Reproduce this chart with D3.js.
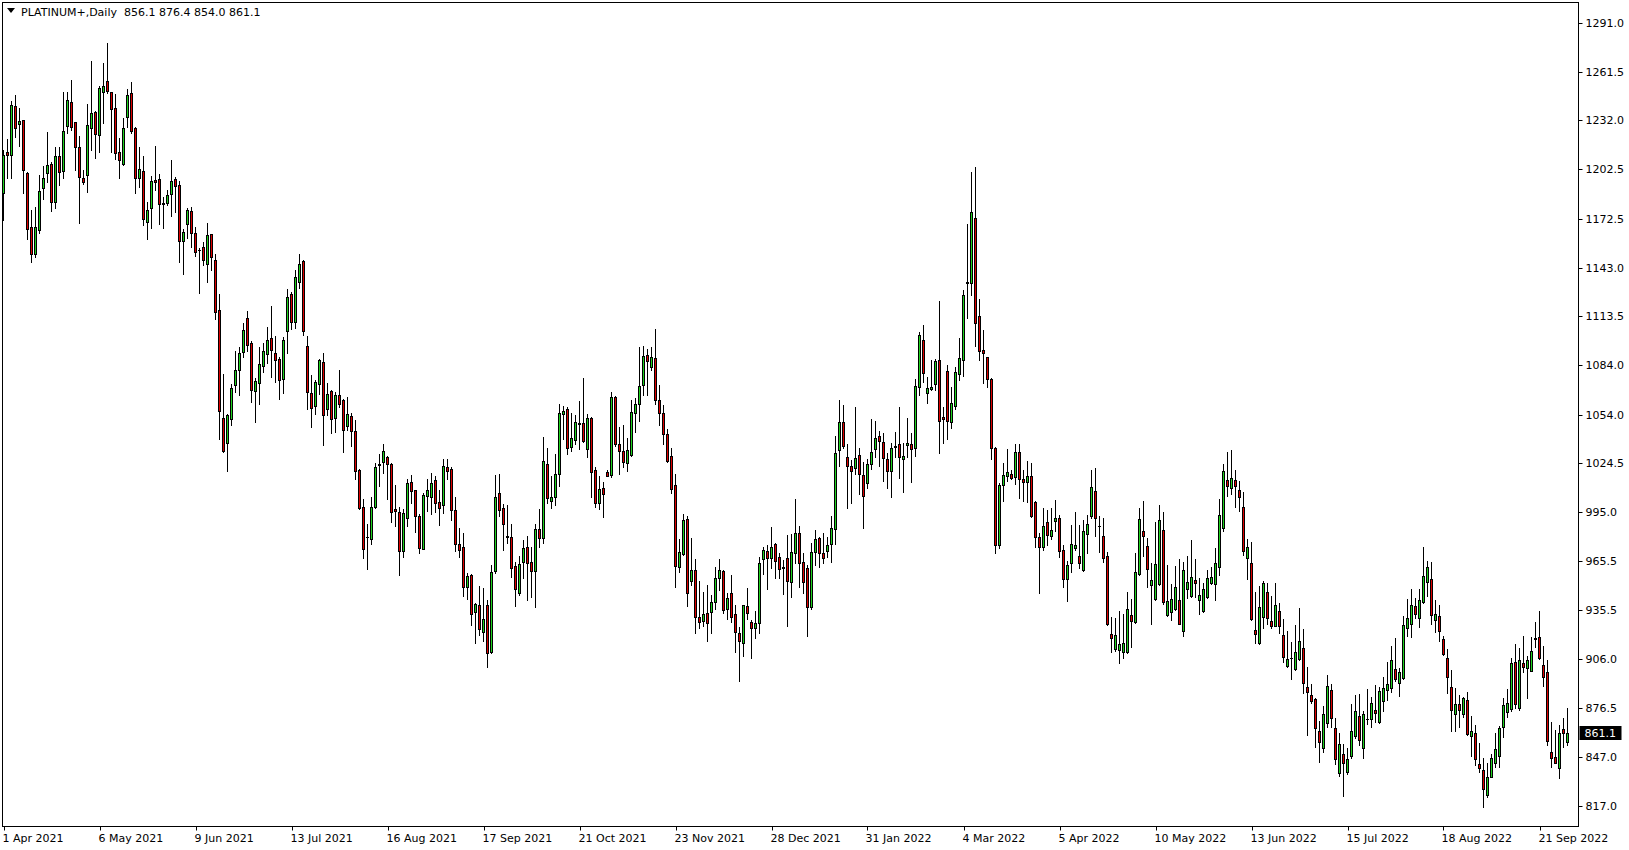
<!DOCTYPE html>
<html><head><meta charset="utf-8">
<script src="https://cdn.jsdelivr.net/npm/d3@7"></script>
<style>html,body{margin:0;padding:0;background:#fff;overflow:hidden}
svg{display:block} text{white-space:pre}</style>
</head><body><svg id="c" width="1629" height="850"></svg>
<script>
const symbol = "PLATINUM+,Daily";
const lastBar = ["856.1", "876.4", "854.0", "861.1"];

const open = [1188,1212.9,1210.9,1240.5,1230.0,1232.0,1200.0,1167.3,1151.4,1165.9,
1191.3,1200.4,1205.6,1182.4,1210.3,1201.6,1228.8,1243.1,1230.8,1215.7,
1196.9,1199.2,1227.6,1237.1,1223.0,1249.0,1255.6,1249.2,1239.3,1212.7,
1205.6,1233.9,1248.8,1227.2,1197.3,1201.2,1170.7,1179.2,1195.7,1196.3,
1181.4,1182.2,1187.3,1196.3,1192.7,1159.2,1169.5,1177.0,1163.7,1153.4,
1155.2,1145.3,1163.1,1147.3,1117.1,1051.7,1037.0,1051.5,1071.7,1081.2,
1092.1,1112.4,1097.1,1068.1,1072.9,1083.2,1090.5,1100.1,1091.1,1087.6,
1075.3,1104.4,1127.0,1109.8,1134.4,1146.9,1095.3,1066.9,1059.0,1072.3,
1085.6,1057.2,1068.3,1051.7,1065.7,1062.6,1046.9,1053.0,1043.9,1020.5,
997.9,980.0,978.5,997.9,1023.8,1025.1,1028.3,1023.9,996.8,995.0,
971.6,991.6,1013.0,1008.1,992.6,972.6,1004.9,1004.3,1014.2,1000.9,
999.1,1022.1,1020.9,996.0,975.5,973.7,949.9,956.9,934.7,938.6,
922.6,938.8,910.5,959.1,1006.3,997.2,980.4,979.7,962.1,945.8,
964.6,973.7,965.0,959.5,984.6,979.1,1023.9,1001.9,1004.3,1017.8,
1054.1,1057.2,1034.4,1038.8,1048.3,1048.7,1033.0,1051.9,1020.3,1000.7,
1009.4,1019.0,1017.6,1064.6,1036.2,1031.8,1024.9,1029.5,1054.8,1060.6,
1071.9,1089.8,1082.6,1088.0,1063.0,1055.0,1042.0,1029.0,1011.4,962.0,
969.5,990.8,953.5,960.0,931.3,929.3,933.8,934.8,940.8,954.9,
959.4,936.6,945.9,933.2,921.7,916.0,938.2,928.3,924.7,927.7,
966.4,971.3,967.0,975.5,967.7,961.6,967.0,952.9,970.0,982.1,
964.6,960.9,937.8,970.6,979.1,970.0,971.6,975.9,984.9,1032.4,
1049.5,1028.1,1023.1,1021.9,1029.3,1017.2,1012.8,1023.9,1033.0,1040.8,
1037.2,1027.1,1020.1,1034.5,1036.0,1027.3,1035.4,1036.0,1033.5,1071.0,
1098.9,1066.8,1069.6,1072.3,1086.8,1052.3,1080.3,1049.3,1059.3,1078.3,
1087.0,1133.8,1133.4,1172.7,1113.6,1092.8,1088.6,1075.3,1033.5,975.0,
1011.7,1017.0,1018.0,1016.0,1031.1,1015.0,1013.0,1016.8,1001.1,979.7,
973.6,988.8,980.7,989.8,991.2,971.8,954.5,964.4,973.4,968.2,
959.9,981.9,992.8,1007.5,986.6,980.3,968.2,921.0,912.3,911.5,
910.5,910.5,932.5,928.6,957.3,983.3,974.2,951.2,942.2,951.6,
983.9,932.7,934.3,936.5,941.6,923.2,948.6,944.4,954.1,941.6,
935.3,943.4,952.3,951.7,962.0,985.6,1014.2,1009.4,1014.2,1008.1,
997.9,967.0,964.0,923.4,915.6,931.7,946.4,928.9,926.3,934.9,
920.4,901.6,906.8,899.8,905.9,912.5,888.9,884.1,881.7,862.3,
852.0,867.5,887.1,864.1,837.3,848.4,837.9,847.6,859.7,871.6,
852.4,870.1,869.6,875.2,867.8,880.9,887.1,888.3,899.8,891.9,
894.4,925.0,927.0,938.1,931.1,940.8,952.9,954.3,929.5,932.1,
918.2,906.5,888.9,872.6,878.6,872.6,881.1,859.3,861.1,842.3,
838.7,823.6,834.9,843.3,847.6,864.7,874.2,875.6,904.1,876.2,
903.5,900.8,899.0,918.6,919.2,902.2,898.0,849.6,846.6,839.9,
863.5,856.1];

const high = [1214,1220.5,1243.7,1247.2,1239.3,1232.4,1200.6,1177.8,1179.8,1199.0,
1204.4,1225.0,1207.0,1216.1,1216.1,1249.2,1249.2,1256.2,1231.2,1222.6,
1202.0,1241.7,1267.7,1237.9,1252.8,1266.7,1278.8,1249.4,1247.8,1221.4,
1233.5,1250.8,1255.2,1228.2,1215.7,1210.5,1182.4,1198.4,1216.5,1199.6,
1185.9,1189.9,1208.0,1197.6,1195.3,1166.3,1178.8,1179.4,1167.3,1155.0,
1158.4,1169.9,1163.5,1151.0,1126.8,1078.5,1054.3,1072.3,1092.3,1094.9,
1109.2,1116.7,1098.5,1075.9,1094.7,1097.1,1106.8,1119.7,1101.6,1088.9,
1100.8,1129.8,1128.2,1141.5,1151.0,1147.5,1101.6,1078.0,1074.9,1087.8,
1091.1,1072.9,1068.9,1067.7,1081.0,1063.2,1064.6,1054.8,1050.7,1021.1,
1002.9,987.8,1004.1,1024.9,1030.0,1036.2,1029.0,1024.5,1011.4,998.3,
996.8,1014.8,1017.4,1008.5,993.8,1006.7,1015.2,1018.8,1017.0,1008.1,
1027.1,1027.1,1022.5,1004.3,985.2,982.1,958.3,957.3,940.2,950.5,
949.0,942.0,963.0,1017.6,1018.0,999.7,999.3,987.6,964.6,968.4,
978.1,980.5,974.1,987.6,996.9,1040.4,1033.8,1016.6,1030.0,1060.2,
1059.2,1058.4,1054.8,1053.5,1062.2,1076.1,1054.1,1052.3,1022.1,1017.0,
1013.0,1020.5,1067.7,1065.2,1046.7,1047.7,1039.6,1063.0,1064.0,1094.7,
1095.5,1093.5,1094.9,1105.8,1072.0,1060.0,1045.0,1033.5,1018.1,978.7,
993.9,992.7,979.2,966.6,953.3,946.7,950.9,944.9,962.0,966.8,
959.8,945.9,957.0,938.8,925.7,938.8,949.1,929.7,935.2,967.7,
973.7,975.1,985.8,976.1,970.5,966.0,981.1,981.5,1002.9,986.6,
970.0,963.0,976.5,983.9,980.1,982.1,979.7,992.6,1041.0,1062.8,
1059.8,1036.0,1026.5,1058.4,1033.6,1025.1,1027.1,1051.1,1050.1,1044.3,
1042.6,1030.5,1037.0,1043.7,1058.6,1036.6,1051.7,1043.1,1075.7,1103.9,
1108.2,1076.9,1087.0,1087.8,1122.5,1058.3,1083.8,1070.8,1082.5,1100.3,
1129.3,1169.1,1200.5,1204.0,1123.7,1105.1,1089.0,1075.9,1034.1,1012.8,
1024.9,1033.1,1020.4,1036.2,1036.2,1020.4,1025.9,1024.5,1001.9,982.1,
997.2,996.2,997.2,1002.3,993.2,975.4,965.4,987.5,994.8,987.1,
990.2,993.2,1020.4,1021.6,992.6,991.2,970.6,931.3,930.7,935.1,
933.3,946.4,942.4,970.2,997.6,1001.7,979.1,964.1,988.8,999.6,
994.8,963.0,951.8,962.4,966.6,964.6,968.4,978.1,966.6,954.9,
951.9,960.1,961.5,973.0,1002.7,1024.1,1031.1,1032.5,1020.4,1013.8,
1006.9,978.7,976.9,946.4,950.3,953.1,951.9,944.2,951.9,939.8,
930.1,923.0,916.6,926.7,936.7,924.0,901.0,891.3,882.3,868.8,
877.8,896.2,891.3,870.2,861.1,854.4,852.4,878.6,884.3,885.1,
874.6,887.9,883.3,890.3,889.3,895.4,904.1,913.9,919.0,900.4,
932.3,942.4,948.2,943.2,948.2,973.6,965.4,965.0,941.8,938.7,
920.0,911.9,899.2,888.3,884.3,883.3,885.9,871.6,866.1,855.0,
846.0,843.3,848.4,861.1,865.5,882.3,887.7,906.9,914.9,912.5,
920.0,907.9,919.6,928.3,935.1,913.9,905.3,868.2,863.1,866.1,
870.2,876.4];

const low = [1171.7,1196.9,1197.3,1222.2,1216.5,1188.3,1160.2,1146.5,1149.5,1164.1,
1184.4,1194.9,1177.4,1179.2,1192.7,1197.3,1224.6,1226.2,1202.0,1169.7,
1193.5,1188.9,1214.1,1209.0,1213.1,1230.6,1248.4,1213.1,1208.6,1197.3,
1205.2,1228.2,1224.6,1188.3,1191.9,1168.9,1160.4,1167.1,1189.9,1169.5,
1167.1,1180.8,1174.4,1176.8,1146.5,1139.3,1161.0,1155.6,1149.7,1127.8,
1144.5,1134.4,1141.3,1111.6,1039.0,1031.5,1020.0,1047.7,1067.9,1066.0,
1089.0,1092.7,1061.8,1049.7,1060.2,1080.0,1085.4,1076.9,1073.9,1063.6,
1067.3,1091.1,1105.8,1106.6,1130.8,1102.2,1057.4,1046.7,1054.2,1066.3,
1035.8,1053.6,1043.1,1043.7,1058.8,1031.6,1044.7,1035.2,1015.2,996.9,
967.4,960.4,975.5,997.5,1011.0,1018.5,1002.7,989.2,986.8,956.9,
967.6,986.6,1000.7,983.1,970.4,972.4,995.6,993.8,995.2,987.4,
994.2,1014.8,990.2,971.4,967.8,944.2,942.2,926.7,916.0,920.6,
917.0,901.0,909.5,958.3,992.6,972.0,976.1,955.9,938.4,944.8,
954.9,941.8,943.8,937.8,974.1,976.5,1000.3,997.7,999.1,1011.0,
1039.2,1030.4,1032.2,1036.0,1033.2,1037.2,1028.5,1004.3,998.3,996.7,
992.0,1016.8,1016.4,1035.2,1018.2,1022.5,1019.9,1029.1,1043.5,1050.1,
1065.8,1065.8,1080.8,1060.2,1048.0,1036.0,1025.5,1006.8,949.9,958.8,
969.3,938.4,950.9,922.1,924.7,926.3,917.2,922.1,936.2,947.9,
934.2,930.3,928.7,910.6,893.0,908.2,930.3,906.5,919.0,921.7,
957.4,948.3,961.2,955.3,954.9,945.5,926.3,943.8,964.0,949.9,
945.8,920.2,936.3,963.0,962.0,964.4,967.6,965.0,975.5,1023.1,
1033.6,997.3,1000.7,1017.8,1006.1,985.2,1009.4,1021.1,1028.5,1023.1,
1014.0,1009.4,1003.9,1028.1,1015.4,1007.3,1028.1,1013.0,1028.9,1065.8,
1073.9,1060.8,1068.8,1068.8,1030.9,1036.6,1039.0,1045.6,1057.1,1074.9,
1077.5,1112.6,1126.3,1095.5,1087.0,1073.3,1070.8,1026.9,970.0,973.4,
1001.9,1014.0,1014.8,1012.0,1003.7,1001.9,1001.3,991.8,974.0,946.2,
972.0,975.0,978.7,983.5,968.0,949.8,941.2,958.9,972.0,960.9,
959.3,970.4,991.6,980.7,970.6,964.6,926.5,910.1,911.1,903.8,
906.9,909.9,913.5,928.2,956.9,968.4,949.8,927.0,941.8,951.2,
939.4,932.1,929.7,935.7,927.3,920.0,943.2,943.8,943.4,933.5,
934.7,943.2,951.3,941.8,956.9,983.5,1004.7,1005.9,998.3,995.8,
969.0,954.7,929.9,916.0,915.4,925.0,927.3,925.0,926.1,921.6,
904.5,901.0,894.2,899.4,905.5,885.7,860.1,879.8,853.0,843.7,
850.0,865.1,865.1,842.7,835.5,823.4,836.7,846.0,858.1,854.0,
846.0,866.7,865.1,867.8,867.6,874.8,881.3,886.3,892.8,883.9,
894.2,920.0,919.6,930.7,925.6,939.8,944.4,927.0,922.6,917.0,
908.7,885.7,862.5,862.7,865.1,871.2,860.1,847.2,842.1,837.5,
816.7,822.6,834.7,840.9,840.9,859.1,870.8,874.8,876.2,875.2,
898.0,882.3,898.8,913.5,906.3,889.9,854.0,840.9,842.9,833.9,
853.0,854.0];

const close = [1211,1211.3,1241.1,1227.6,1231.6,1201.8,1166.5,1151.0,1167.3,1189.1,
1196.9,1205.0,1182.6,1210.3,1200.6,1225.4,1244.1,1228.2,1216.1,1198.0,
1194.9,1229.0,1236.3,1224.0,1251.6,1252.8,1250.0,1238.7,1212.5,1208.2,
1227.2,1247.4,1225.8,1197.3,1202.4,1172.5,1177.6,1195.1,1194.9,1181.2,
1181.8,1186.7,1195.1,1192.1,1159.2,1164.3,1177.6,1163.9,1152.6,1153.8,
1147.7,1162.5,1149.5,1116.3,1056.4,1032.2,1053.7,1069.9,1080.8,1091.1,
1105.0,1095.9,1068.7,1074.3,1084.4,1092.3,1099.1,1093.3,1086.8,1074.7,
1099.1,1125.0,1109.8,1137.1,1144.9,1104.8,1067.9,1058.2,1073.5,1087.0,
1053.6,1066.3,1051.1,1065.7,1060.6,1044.5,1054.2,1043.9,1019.7,997.7,
972.5,979.8,997.9,1022.1,1024.0,1031.8,1023.9,995.3,995.4,971.6,
994.2,1012.4,1007.5,992.4,973.5,1005.3,1008.1,1012.6,1000.7,997.7,
1022.7,1020.0,996.4,975.9,972.2,949.5,956.3,933.1,939.4,924.4,
930.1,909.9,958.5,1003.9,996.0,987.6,980.2,961.3,948.2,963.4,
973.0,964.0,959.5,984.6,979.5,1025.7,1003.3,1004.3,1017.8,1054.8,
1056.0,1034.0,1039.6,1049.3,1048.7,1038.2,1051.7,1019.5,1000.7,1008.8,
1006.1,1017.0,1064.4,1036.2,1032.2,1025.5,1032.4,1055.4,1060.6,1071.1,
1089.2,1086.6,1088.6,1062.8,1055.0,1042.0,1026.1,1008.8,962.6,970.7,
990.0,946.3,960.0,931.7,928.7,933.2,927.7,940.4,955.1,960.0,
935.8,942.8,931.7,922.7,917.2,938.6,934.2,924.7,927.7,964.0,
972.1,967.0,973.7,965.4,960.4,961.2,953.5,970.6,982.1,964.0,
952.9,937.8,970.6,978.5,970.0,967.4,975.1,985.2,1030.5,1049.3,
1035.2,1023.1,1020.1,1027.5,1018.2,1004.9,1023.9,1031.1,1039.6,1038.2,
1027.5,1020.1,1033.6,1034.7,1028.1,1028.7,1036.6,1033.2,1071.6,1101.9,
1078.9,1069.8,1070.4,1086.2,1050.3,1051.1,1050.3,1060.8,1079.5,1088.0,
1126.1,1134.2,1176.3,1109.6,1092.6,1091.4,1075.3,1033.9,975.4,1011.3,
1017.4,1019.4,1015.8,1031.1,1014.8,1013.0,1016.8,992.8,979.7,974.0,
986.5,981.1,983.9,991.2,971.6,954.5,963.3,976.0,974.8,964.4,
983.3,988.1,1010.0,991.2,986.4,967.0,927.0,919.0,920.4,915.5,
916.1,936.1,929.3,958.5,990.6,980.7,960.7,953.7,963.9,990.0,
940.8,941.0,942.2,949.4,927.5,959.7,952.5,955.5,952.3,944.6,
948.4,954.9,955.7,964.0,993.0,1019.6,1011.0,1015.4,1010.6,1004.3,
971.6,973.7,930.1,921.4,937.4,951.9,930.7,926.3,938.6,926.3,
907.1,905.9,906.6,910.1,916.8,891.4,886.3,880.8,864.5,856.0,
872.6,889.5,870.2,845.4,854.4,843.3,845.4,862.5,874.6,857.3,
872.6,869.9,879.2,873.2,886.7,888.3,891.3,905.3,893.8,898.2,
926.6,931.1,939.1,933.1,941.6,956.1,961.5,932.7,933.1,923.2,
908.9,895.0,875.0,878.6,875.4,882.3,860.9,862.3,845.4,839.9,
827.2,834.5,846.0,851.6,864.1,878.2,879.2,903.5,879.0,905.3,
901.4,905.3,910.9,918.2,906.5,895.0,856.7,846.0,843.3,861.1,
861.5,861.1];

const priceTicks = [1291.0,1261.5,1232.0,1202.5,1172.5,1143.0,1113.5,1084.0,1054.0,1024.5,995.0,965.5,935.5,906.0,876.5,847.0,817.0];
const dateLabels = ["1 Apr 2021","6 May 2021","9 Jun 2021","13 Jul 2021","16 Aug 2021","17 Sep 2021","21 Oct 2021","23 Nov 2021","28 Dec 2021","31 Jan 2022","4 Mar 2022","5 Apr 2022","10 May 2022","13 Jun 2022","15 Jul 2022","18 Aug 2022","21 Sep 2022"];
const barsPerDateLabel = 24;

const FONT = "'DejaVu Sans', Tahoma, sans-serif";
const UP = "#1ed21e", DOWN = "#dc0000";
const frame = {left: 2.5, right: 1578.5, top: 2.5, bottom: 826.5};

const svg = d3.select("#c");
const n = open.length;
const data = d3.range(n).map(i => ({i, o: open[i], h: high[i], l: low[i], c: close[i]}));

const x = d3.scaleLinear().domain([0, n - 1]).range([3.5, 3.5 + 4 * (n - 1)]);
const y = d3.scaleLinear().domain([817, 1291]).range([806.3, 22.9]);

svg.append("rect").attr("x", frame.left).attr("y", frame.top)
  .attr("width", frame.right - frame.left).attr("height", frame.bottom - frame.top)
  .attr("fill", "#fff").attr("stroke", "#000").attr("stroke-width", 1);

svg.append("clipPath").attr("id", "clip").append("rect")
  .attr("x", frame.left + 0.5).attr("y", frame.top + 0.5)
  .attr("width", frame.right - frame.left - 1).attr("height", frame.bottom - frame.top - 1);

const g = svg.append("g").attr("clip-path", "url(#clip)");

g.selectAll("line.wick").data(data).join("line").attr("class", "wick")
  .attr("x1", d => x(d.i)).attr("x2", d => x(d.i))
  .attr("y1", d => Math.round(y(d.h))).attr("y2", d => Math.round(y(d.l)) + 1)
  .attr("stroke", "#000").attr("stroke-width", 1);

data.forEach(d => {
  const top = Math.round(y(Math.max(d.o, d.c)));
  const bot = Math.round(y(Math.min(d.o, d.c)));
  const cx = x(d.i);
  if (bot - top < 2) {
    g.append("rect").attr("x", cx - 1.5).attr("y", top).attr("width", 3)
      .attr("height", Math.max(1, bot - top + 1)).attr("fill", "#000");
  } else {
    g.append("rect").attr("x", cx - 1).attr("y", top + 0.5).attr("width", 2)
      .attr("height", bot - top).attr("fill", d.c >= d.o ? UP : DOWN)
      .attr("stroke", "#000").attr("stroke-width", 1);
  }
});

const ax = svg.append("g");
priceTicks.forEach(p => {
  const yy = Math.round(y(p)) + 0.5;
  ax.append("line").attr("x1", frame.right).attr("x2", frame.right + 4)
    .attr("y1", yy).attr("y2", yy).attr("stroke", "#000");
  ax.append("text").attr("x", frame.right + 7).attr("y", yy)
    .attr("dy", "0.35em").attr("font-family", FONT).attr("font-size", 11)
    .attr("fill", "#000").text(p.toFixed(1));
});

const lastY = Math.round(y(close[n - 1]));
ax.append("rect").attr("x", frame.right + 1).attr("y", lastY - 7).attr("width", 42).attr("height", 14).attr("fill", "#000");
ax.append("text").attr("x", frame.right + 6).attr("y", lastY).attr("dy", "0.35em")
  .attr("font-family", FONT).attr("font-size", 11).attr("fill", "#fff").text(close[n - 1].toFixed(1));

dateLabels.forEach((lab, k) => {
  const xx = Math.round(x(k * barsPerDateLabel)) + 0.5;
  ax.append("line").attr("x1", xx).attr("x2", xx).attr("y1", frame.bottom).attr("y2", frame.bottom + 4).attr("stroke", "#000");
  ax.append("text").attr("x", xx - 2).attr("y", 842).attr("font-family", FONT)
    .attr("font-size", 11).attr("fill", "#000").text(lab);
});

svg.append("path").attr("d", "M7,8 L15,8 L11,13 Z").attr("fill", "#000");
svg.append("text").attr("x", 21).attr("y", 16).attr("font-family", FONT).attr("font-size", 11)
  .attr("fill", "#000").text(symbol + "  " + lastBar.join(" "));
</script></body></html>
